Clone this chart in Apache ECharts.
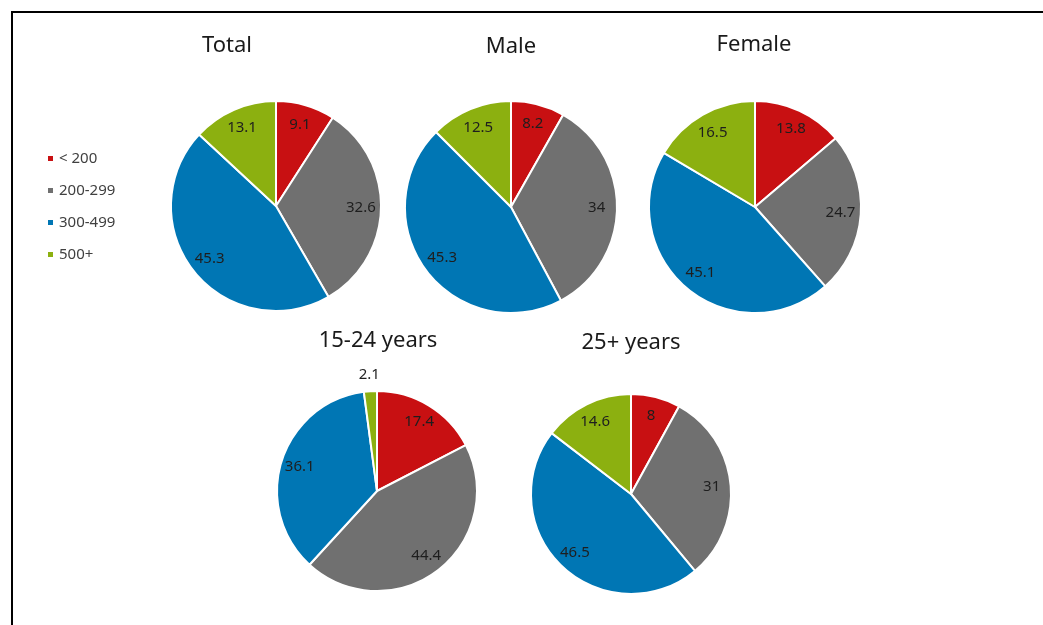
<!DOCTYPE html>
<html>
<head>
<meta charset="utf-8">
<script src="https://cdn.jsdelivr.net/npm/echarts@6/dist/echarts.min.js"></script>
<style>
  html, body { margin: 0; padding: 0; background: #fff; }
  #chart { width: 1043px; height: 625px; }
</style>
</head>
<body>
<div id="chart"></div>
<script>
// Income bands shown in every pie
const categories = ['< 200', '200-299', '300-499', '500+'];
const colors = ['#C81012', '#707070', '#0076B4', '#8CB010'];

// Percent share per band
const totalValues  = [9.1, 32.6, 45.3, 13.1];
const maleValues   = [8.2, 34, 45.3, 12.5];
const femaleValues = [13.8, 24.7, 45.1, 16.5];
const age1524Values = [17.4, 44.4, 36.1, 2.1];
const age25Values   = [8, 31, 46.5, 14.6];

const pieTitles = ['Total', 'Male', 'Female', '15-24 years', '25+ years'];

// Layout of each pie: centre, radius, title anchor
const pies = [
  { title: pieTitles[0], values: totalValues,   cx: 276, cy: 206, r: 105, tx: 227, ty: 35 },
  { title: pieTitles[1], values: maleValues,    cx: 511, cy: 207, r: 106, tx: 511, ty: 36 },
  { title: pieTitles[2], values: femaleValues,  cx: 755, cy: 207, r: 106, tx: 754, ty: 34 },
  { title: pieTitles[3], values: age1524Values, cx: 377, cy: 491, r: 100, tx: 378, ty: 330 },
  { title: pieTitles[4], values: age25Values,   cx: 631, cy: 494, r: 100, tx: 631, ty: 332 }
];

const SMALL = 5; // slices below this get their label outside the pie
const labelFont = { fontFamily: 'Noto Sans', fontSize: 15, color: '#1e1e1e' };

const series = [];
pies.forEach(p => {
  const data = p.values.map((v, i) => ({ name: categories[i], value: v }));
  // slices
  series.push({
    type: 'pie', center: [p.cx, p.cy], radius: [0, p.r],
    startAngle: 90, clockwise: true, silent: true,
    itemStyle: { borderColor: '#fff', borderWidth: 2 },
    label: { show: false }, labelLine: { show: false },
    data: data
  });
  // value labels inside the slices
  series.push({
    type: 'pie', center: [p.cx, p.cy], radius: [p.r * 0.56, p.r],
    startAngle: 90, clockwise: true, silent: true,
    itemStyle: { color: 'transparent' },
    label: Object.assign({ position: 'inside', formatter: '{c}' }, labelFont),
    labelLine: { show: false },
    data: data.map(d => ({ name: d.name, value: d.value, label: { show: d.value >= SMALL } }))
  });
  // value labels for thin slices, just outside the rim
  if (p.values.some(v => v < SMALL)) {
    series.push({
      type: 'pie', center: [p.cx, p.cy], radius: [p.r, p.r * 1.27],
      startAngle: 90, clockwise: true, silent: true,
      itemStyle: { color: 'transparent' },
      label: Object.assign({ position: 'inside', formatter: '{c}' }, labelFont),
      labelLine: { show: false },
      data: data.map(d => ({ name: d.name, value: d.value, label: { show: d.value < SMALL } }))
    });
  }
});

const option = {
  animation: false,
  color: colors,
  backgroundColor: '#fff',
  title: pies.map(p => ({
    text: p.title, left: p.tx, top: p.ty, textAlign: 'center', padding: 0,
    textStyle: { fontFamily: 'Noto Sans', fontSize: 22, fontWeight: 'normal', color: '#1a1a1a' }
  })),
  legend: {
    orient: 'vertical', left: 46, top: 151, padding: 0,
    icon: 'rect', itemWidth: 7, itemHeight: 7, itemGap: 17,
    data: categories,
    textStyle: { fontFamily: 'Noto Sans', fontSize: 15, color: '#404040' }
  },
  graphic: [
    { type: 'line', shape: { x1: 11, y1: 12, x2: 1043, y2: 12 }, style: { stroke: '#000', lineWidth: 2 } },
    { type: 'line', shape: { x1: 12, y1: 11, x2: 12, y2: 625 }, style: { stroke: '#000', lineWidth: 2 } }
  ],
  series: series
};

echarts.init(document.getElementById('chart')).setOption(option);
</script>
</body>
</html>
